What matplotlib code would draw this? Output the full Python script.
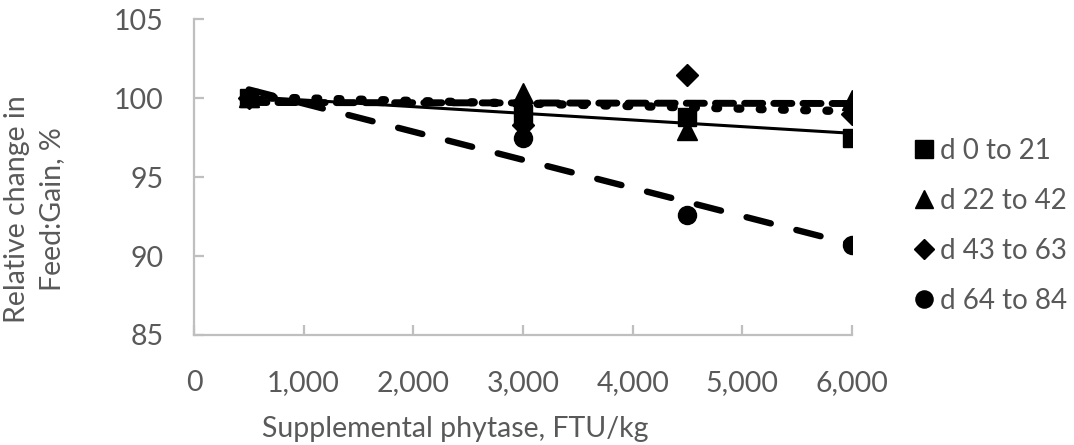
import matplotlib
matplotlib.use("Agg")
import matplotlib.pyplot as plt
import numpy as np
from matplotlib.lines import Line2D
from matplotlib.ticker import FuncFormatter

plt.rcParams['font.family'] = ['Lato', 'DejaVu Sans']
plt.rcParams['lines.scale_dashes'] = False

# dose of phytase (FTU/kg) and relative feed:gain (%) per period
phytase = np.array([500, 3000, 4500, 6000])
d0_21 = np.array([100.0, 99.0, 98.8, 97.5])
d22_42 = np.array([100.1, 100.3, 98.0, 99.9])
d43_63 = np.array([100.0, 98.3, 101.45, 99.0])
d64_84 = np.array([100.0, 97.5, 92.6, 90.7])

labels = ['d 0 to 21', 'd 22 to 42', 'd 43 to 63', 'd 64 to 84']
markers = ['s', '^', 'D', 'o']
msizes = [13, 14, 11, 13]
gray = '#595959'
axis_gray = '#bfbfbf'
fs = 20.5

fig = plt.figure(figsize=(10.74, 4.45), dpi=100)
ax = fig.add_axes([0.1806, 0.2472, 0.7933 - 0.1806, 0.957 - 0.2472])

series = [d0_21, d22_42, d43_63, d64_84]
# linear trendlines, one line style per period
line_styles = [
    dict(linestyle='-', lw=2.2),
    dict(dashes=(2, 14), lw=6, dash_capstyle='round'),
    dict(dashes=(13, 8), lw=5.0, dash_capstyle='round'),
    dict(dashes=(18, 19), lw=4.6, dash_capstyle='round'),
]
xfit = np.array([phytase.min(), phytase.max()])
for y, st in zip(series, line_styles):
    k, b = np.polyfit(phytase, y, 1)
    ax.plot(xfit, k * xfit + b, color='black', zorder=2, **st)

for y, m, ms in zip(series, markers, msizes):
    ax.plot(phytase, y, linestyle='none', marker=m, markersize=ms,
            color='black', zorder=3)

ax.set_xlim(0, 6000)
ax.set_ylim(85, 105)
ax.set_xticks(np.arange(0, 6001, 1000))
ax.set_yticks(np.arange(85, 106, 5))
ax.xaxis.set_major_formatter(FuncFormatter(lambda v, p: f'{int(v):,}'))

for s in ['top', 'right']:
    ax.spines[s].set_visible(False)
for s in ['left', 'bottom']:
    ax.spines[s].set_color(axis_gray)
    ax.spines[s].set_linewidth(1.6)

ax.tick_params(axis='both', direction='in', length=7, width=1.6,
               color=axis_gray, labelcolor=gray, labelsize=fs)
ax.tick_params(axis='x', pad=25)
ax.tick_params(axis='y', pad=22)

ax.set_xlabel('Supplemental phytase, FTU/kg', fontsize=fs, color=gray)
ax.xaxis.set_label_coords(0.397, -0.255)
fig.text(0.032, 1 - 209 / 445, 'Relative change in\nFeed:Gain, %',
         rotation=90, ha='center', va='center', fontsize=fs, color=gray,
         linespacing=1.45)

handles = [Line2D([], [], linestyle='none', marker=m, markersize=ms * 0.95,
                  color='black') for m, ms in zip(markers, msizes)]
ax.legend(handles, labels, loc='upper left', bbox_to_anchor=(0.84, 0.715),
          bbox_transform=fig.transFigure, frameon=False, fontsize=20,
          labelcolor=gray, handlelength=0.8, handletextpad=0.15,
          labelspacing=0.86, borderaxespad=0)

fig.savefig('out.png', dpi=100)
